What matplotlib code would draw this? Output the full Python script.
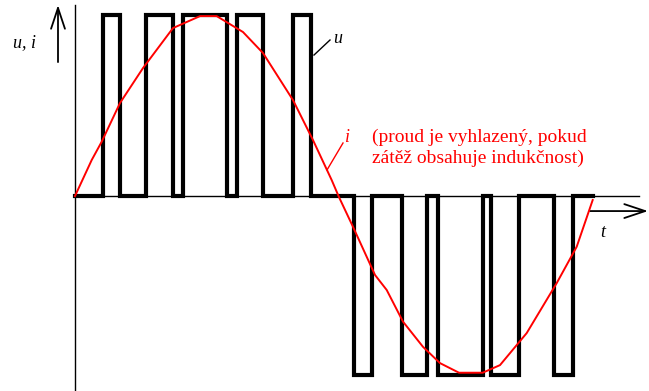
import matplotlib
matplotlib.use("Agg")
import matplotlib.pyplot as plt

# ---- data (time in arbitrary units, origin at the vertical axis) ----
pos_starts = [28, 71, 108, 162, 218]
pos_ends = [45, 98, 152, 188, 236]
neg_starts = [279, 327, 363, 416, 479]
neg_ends = [297, 352, 408, 444, 498]
u_high = 1.0
u_low = -0.99
t_end = 518

i_t = [0, 16.7, 26.7, 45, 68, 98, 125, 141.7, 168, 188, 218, 238, 256.7, 264,
       278, 300, 311.7, 328, 348, 365, 384, 407.7, 425, 451.7, 481.7, 501.7, 517.7]
i_v = [0, 0.199, 0.30, 0.514, 0.707, 0.928, 0.994, 0.994, 0.906, 0.790, 0.530,
       0.309, 0.088, -0.006, -0.170, -0.436, -0.519, -0.694, -0.833, -0.923,
       -0.976, -0.976, -0.934, -0.757, -0.481, -0.280, -0.022]

label_ui = "u, i"
label_u = "u"
label_i = "i"
label_t = "t"
note_line1 = "(proud je vyhlazený, pokud"
note_line2 = "zátěž obsahuje indukčnost)"

# ---- build the PWM waveform ----
ut, uv = [0], [0]
for s, e in zip(pos_starts, pos_ends):
    ut += [s, s, e, e]
    uv += [0, u_high, u_high, 0]
for s, e in zip(neg_starts, neg_ends):
    ut += [s, s, e, e]
    uv += [0, u_low, u_low, 0]
ut.append(t_end)
uv.append(0)

fig = plt.figure(figsize=(6.49, 3.91), dpi=100)
ax = fig.add_axes([0, 0, 1, 1])
ax.set_xlim(-75, 574)
ax.set_ylim(-1.077, 1.083)
ax.axis("off")

serif = ["Liberation Serif", "DejaVu Serif"]
red = "#ff0000"

# axes
ax.plot([0, 564], [0, 0], color="black", lw=1.0, zorder=1)
ax.plot([0, 0], [-1.077, 1.055], color="black", lw=1.0, zorder=1)
ax.annotate("", xy=(-17, 1.055), xytext=(-17, 0.74),
            arrowprops=dict(arrowstyle="->,head_length=1.5,head_width=0.5",
                            color="black", lw=1.3, shrinkA=0, shrinkB=0))
ax.annotate("", xy=(573, -0.083), xytext=(515, -0.083),
            arrowprops=dict(arrowstyle="->,head_length=1.5,head_width=0.5",
                            color="black", lw=1.3, shrinkA=0, shrinkB=0))

# signals
ax.plot(ut, uv, color="black", lw=3.0, solid_joinstyle="miter", zorder=2)
ax.plot(i_t, i_v, color=red, lw=1.4, zorder=3)

# leaders
ax.plot([239, 255], [0.779, 0.862], color="black", lw=1.0)
ax.plot([252, 268], [0.144, 0.293], color=red, lw=1.0)

# labels
ax.text(-50.5, 0.845, label_ui, family=serif, style="italic", fontsize=13,
        ha="center", va="center")
ax.text(263, 0.873, label_u, family=serif, style="italic", fontsize=13,
        ha="center", va="center")
ax.text(272, 0.326, label_i, family=serif, style="italic", fontsize=13,
        ha="center", va="center", color=red)
ax.text(528, -0.204, label_t, family=serif, style="italic", fontsize=13,
        ha="center", va="center")
ax.text(296.7, 0.326, note_line1, family=serif, fontsize=14,
        ha="left", va="center", color=red)
ax.text(296.7, 0.207, note_line2, family=serif, fontsize=14,
        ha="left", va="center", color=red)

fig.savefig("out.png", dpi=100)
